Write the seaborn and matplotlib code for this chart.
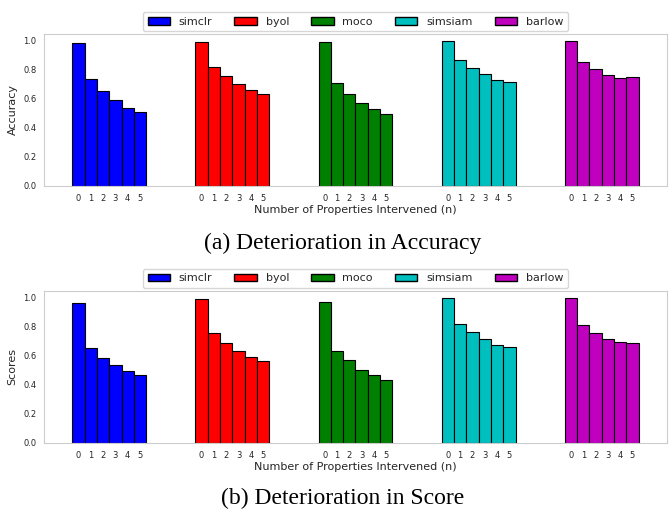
import numpy as np
import pandas as pd
import matplotlib
matplotlib.use('Agg')
import matplotlib.pyplot as plt
import seaborn as sns
from matplotlib.patches import Patch

# Data
methods = ['simclr', 'byol', 'moco', 'simsiam', 'barlow']
colors = ['b', 'r', 'g', 'c', 'm']
n_values = ['0', '1', '2', '3', '4', '5']

accuracy_simclr = [0.986, 0.733, 0.655, 0.589, 0.538, 0.510]
accuracy_byol = [0.993, 0.816, 0.754, 0.699, 0.662, 0.634]
accuracy_moco = [0.989, 0.706, 0.630, 0.568, 0.526, 0.492]
accuracy_simsiam = [0.995, 0.864, 0.811, 0.768, 0.726, 0.713]
accuracy_barlow = [0.995, 0.855, 0.802, 0.761, 0.743, 0.749]

score_simclr = [0.961, 0.655, 0.584, 0.533, 0.497, 0.469]
score_byol = [0.989, 0.754, 0.690, 0.634, 0.591, 0.561]
score_moco = [0.970, 0.630, 0.568, 0.503, 0.469, 0.434]
score_simsiam = [0.995, 0.821, 0.761, 0.713, 0.676, 0.657]
score_barlow = [0.995, 0.811, 0.754, 0.713, 0.692, 0.690]

accuracy = [accuracy_simclr, accuracy_byol, accuracy_moco, accuracy_simsiam, accuracy_barlow]
scores = [score_simclr, score_byol, score_moco, score_simsiam, score_barlow]


def to_frame(series):
    rows = []
    for m, vals in zip(methods, series):
        for n, v in zip(n_values, vals):
            rows.append({'method': m, 'n': n, 'value': v})
    return pd.DataFrame(rows)


sns.set_style('whitegrid', {'axes.grid': False})
plt.rcParams['font.family'] = ['DejaVu Sans']

fig = plt.figure(figsize=(6.72, 5.15), dpi=100)
ax1 = fig.add_axes([0.0655, 0.639, 0.927, 0.295])
ax2 = fig.add_axes([0.0655, 0.140, 0.927, 0.295])


def draw(ax, series, ylabel):
    df = to_frame(series)
    sns.barplot(data=df, x='method', y='value', hue='n', order=methods,
                hue_order=n_values, width=0.6, errorbar=None,
                edgecolor='black', linewidth=0.8, legend=False, ax=ax)
    # colour every bar by its method
    for cont in ax.containers:
        for patch, c in zip(cont, colors):
            patch.set_facecolor(c)
    bars = sorted(ax.patches, key=lambda p: p.get_x())
    ax.set_xticks([p.get_x() + p.get_width() / 2 for p in bars])
    ax.set_xticklabels(n_values * len(methods))
    ax.set_xlim(-0.53, 4.53)
    ax.tick_params(axis='both', labelsize=6, pad=2)
    ax.set_xlabel('Number of Properties Intervened (n)', fontsize=8, labelpad=2)
    ax.set_ylabel(ylabel, fontsize=8)
    handles = [Patch(facecolor=c, edgecolor='black', label=m) for m, c in zip(methods, colors)]
    ax.legend(handles=handles, ncol=5, loc='lower center', bbox_to_anchor=(0.5, 1.02),
              fontsize=8, columnspacing=2.0, frameon=True, borderaxespad=0)


draw(ax1, accuracy, 'Accuracy')
draw(ax2, scores, 'Scores')

fig.text(0.51, 1 - 243 / 515, '(a) Deterioration in Accuracy', ha='center', va='center',
         family='Liberation Serif', fontsize=17, color='black')
fig.text(0.51, 1 - 498 / 515, '(b) Deterioration in Score', ha='center', va='center',
         family='Liberation Serif', fontsize=17, color='black')

fig.savefig('out.png', dpi=100)
